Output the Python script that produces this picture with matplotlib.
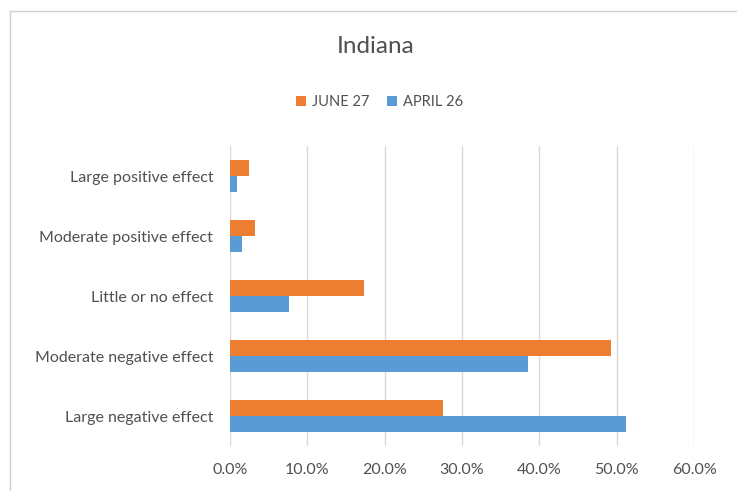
import matplotlib.pyplot as plt
import numpy as np
from matplotlib.lines import Line2D
from matplotlib.ticker import PercentFormatter

## data, top row first
categories = ['Large positive effect', 'Moderate positive effect', 'Little or no effect',
              'Moderate negative effect', 'Large negative effect']
june27 = [2.5, 3.2, 17.3, 49.2, 27.5]
april26 = [0.9, 1.6, 7.6, 38.5, 51.2]

plt.rcParams['font.family'] = ['Lato', 'DejaVu Sans']

fig = plt.figure(figsize=(7.39, 4.91), dpi=100)
ax = fig.add_axes([0.3112, 0.0916, 0.6280, 0.6110])

y = np.arange(len(categories))[::-1]
h = 0.26
ax.barh(y + h / 2, june27, height=h, color='#ED7D31', label='JUNE 27')
ax.barh(y - h / 2, april26, height=h, color='#5B9BD5', label='APRIL 26')

ax.set_xlim(0, 60)
ax.set_ylim(-0.5, 4.5)
ax.set_xticks(np.arange(0, 61, 10))
ax.xaxis.set_major_formatter(PercentFormatter(decimals=1))
ax.set_yticks(y)
ax.set_yticklabels(categories)
ax.tick_params(axis='both', length=0, labelsize=11.5, colors='#505050')
ax.tick_params(axis='x', pad=12)
ax.tick_params(axis='y', pad=12)
ax.grid(axis='x', color='#d9d9d9', linewidth=1)
ax.set_axisbelow(True)
for s in ax.spines.values():
    s.set_visible(False)

fig.text(0.508, 0.905, 'Indiana', ha='center', va='center', fontsize=17.5, color='#505050')
fig.legend(loc='center', bbox_to_anchor=(0.513, 0.792), ncol=2, frameon=False,
           fontsize=10.5, handlelength=0.7, handleheight=0.7, columnspacing=1.2,
           handletextpad=0.4, labelcolor='#505050')

## chart frame: top and left edges only
fig.add_artist(Line2D([0.0135, 0.996], [0.978, 0.978], color='#d0d0d0', lw=1))
fig.add_artist(Line2D([0.0135, 0.0135], [0.0, 0.978], color='#d0d0d0', lw=1))

fig.savefig('out.png')
